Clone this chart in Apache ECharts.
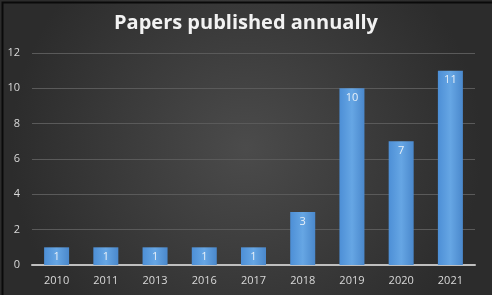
<!DOCTYPE html>
<html><head><meta charset="utf-8">
<script src="https://cdn.jsdelivr.net/npm/echarts@6/dist/echarts.min.js"></script>
<style>html,body{margin:0;padding:0;background:#000}#c{width:492px;height:295px}</style>
</head><body><div id="c"></div>
<script>
const categories = ['2010','2011','2013','2016','2017','2018','2019','2020','2021'];
const papers = [1,1,1,1,1,3,10,7,11];
const yTicks = [0,2,4,6,8,10,12];

const chart = echarts.init(document.getElementById('c'));
chart.setOption({
  animation:false,
  backgroundColor:{type:'radial',x:0.5,y:0.5,r:0.8,colorStops:[{offset:0,color:'#4b4b4b'},{offset:1,color:'#2c2c2c'}]},
  graphic:[{type:'rect',left:0,top:0,shape:{x:0.5,y:0.5,width:491,height:294},style:{fill:null,stroke:'#0a0a0a',lineWidth:2}}],
  title:{text:'Papers published annually',left:'center',top:8,textStyle:{color:'#f2f2f2',fontFamily:'Open Sans',fontWeight:'bold',fontSize:20}},
  grid:{left:32,right:17,top:53,bottom:30},
  xAxis:{type:'category',data:categories,
    axisLine:{lineStyle:{color:'#bfbfbf',width:2}},axisTick:{show:false},
    axisLabel:{color:'#d9d9d9',fontFamily:'Open Sans',fontSize:11,margin:10}},
  yAxis:{type:'value',min:yTicks[0],max:yTicks[yTicks.length-1],interval:2,
    axisLine:{show:false},axisTick:{show:false},
    splitLine:{lineStyle:{color:'#5a5a5a',width:1}},
    axisLabel:{color:'#d9d9d9',fontFamily:'Open Sans',fontSize:11,margin:12}},
  series:[{type:'bar',data:papers,barWidth:25,
    itemStyle:{color:{type:'linear',x:0,y:0,x2:1,y2:0,colorStops:[{offset:0,color:'#4d8fd6'},{offset:0.5,color:'#66a6e4'},{offset:1,color:'#4a88cc'}]}},
    label:{show:true,position:'insideTop',distance:4,color:'#e8f0f8',fontFamily:'Open Sans',fontSize:11}}]
});
</script></body></html>
